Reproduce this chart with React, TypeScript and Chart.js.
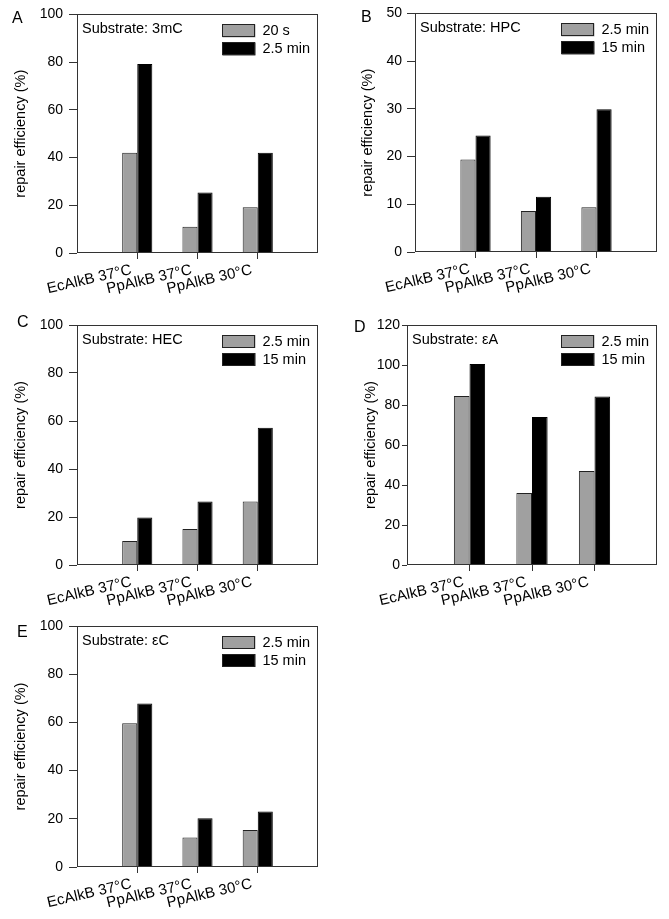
import React, { useEffect, useRef } from 'react';
import { Chart, registerables } from 'chart.js';

Chart.register(...registerables);

// ---------- data ----------
const categories = ['EcAlkB 37°C', 'PpAlkB 37°C', 'PpAlkB 30°C'];

const panelLetters = ['A', 'B', 'C', 'D', 'E'];
const substrates = ['3mC', 'HPC', 'HEC', 'εA', 'εC'];
const shortTimeLabels = ['20 s', '2.5 min', '2.5 min', '2.5 min', '2.5 min'];
const longTimeLabels = ['2.5 min', '15 min', '15 min', '15 min', '15 min'];

const aShort = [42, 11, 19.2];
const aLong = [79.2, 25.4, 42];
const bShort = [19.4, 8.6, 9.4];
const bLong = [24.4, 11.6, 29.9];
const cShort = [10, 15, 26.5];
const cLong = [19.8, 26.5, 57.2];
const dShort = [84.5, 36, 47];
const dLong = [100.5, 74, 84.3];
const eShort = [59.6, 12.2, 15.4];
const eLong = [67.8, 20.2, 23];

const shortSeries = [aShort, bShort, cShort, dShort, eShort];
const longSeries = [aLong, bLong, cLong, dLong, eLong];

const yMaxes = [100, 50, 100, 120, 100];
const ySteps = [20, 10, 20, 20, 20];
const yTitle = 'repair efficiency (%)';

// ---------- layout (positions / sizes) ----------
type Layout = {
  left: number; top: number; w: number; h: number;
  pl: number; pt: number; pr: number; pb: number;
  titleC: number; tickLen: number; tickPad: number;
  lx: number; ly: number;
};
const layouts: Layout[] = [
  { left: 0, top: 0, w: 335, h: 310, pl: 77, pt: 13, pr: 318, pb: 253, titleC: 21, tickLen: 8, tickPad: 6, lx: 12, ly: 23 },
  { left: 335, top: 0, w: 334, h: 310, pl: 80, pt: 12, pr: 322, pb: 252, titleC: 33, tickLen: 8, tickPad: 5, lx: 26, ly: 22 },
  { left: 0, top: 300, w: 335, h: 310, pl: 77, pt: 25, pr: 318, pb: 265, titleC: 21, tickLen: 8, tickPad: 6, lx: 17, ly: 27 },
  { left: 335, top: 300, w: 334, h: 310, pl: 72, pt: 25, pr: 322, pb: 265, titleC: 36, tickLen: 5, tickPad: 2, lx: 19, ly: 32 },
  { left: 0, top: 610, w: 335, h: 309, pl: 77, pt: 16, pr: 318, pb: 257, titleC: 21, tickLen: 8, tickPad: 6, lx: 17, ly: 27 },
];

const FONT = 'Arial, "Liberation Sans", Helvetica, sans-serif';
const GREY = '#a0a0a0';
const EDGE = '#222222';
const AXIS = '#333333';

function Panel({ idx }: { idx: number }) {
  const ref = useRef<HTMLCanvasElement | null>(null);
  const L = layouts[idx];

  useEffect(() => {
    if (!ref.current) return;
    const labels = ['', ...categories, ''];
    const shortData = [null, ...shortSeries[idx], null];
    const longData = [null, ...longSeries[idx], null];

    const decor = {
      id: 'decor' + idx,
      afterDraw(chart: any) {
        const ctx = chart.ctx;
        const ca = chart.chartArea;
        ctx.save();
        // frame
        ctx.strokeStyle = AXIS;
        ctx.lineWidth = 1;
        const x0 = Math.round(ca.left) + 0.5;
        const y0 = Math.round(ca.top) + 0.5;
        const x1 = Math.round(ca.right) - 0.5;
        const y1 = Math.round(ca.bottom) - 0.5;
        ctx.strokeRect(x0, y0, x1 - x0, y1 - y0);

        // panel letter
        ctx.fillStyle = '#000';
        ctx.font = `16px ${FONT}`;
        ctx.textAlign = 'left';
        ctx.textBaseline = 'alphabetic';
        ctx.fillText(panelLetters[idx], L.lx, L.ly);

        // substrate text
        ctx.font = `14.5px ${FONT}`;
        ctx.textBaseline = 'middle';
        ctx.fillText('Substrate: ' + substrates[idx], ca.left + 5, ca.top + 15);

        // legend
        const ds = chart.data.datasets;
        const tw = Math.max(...ds.map((d: any) => ctx.measureText(d.label).width));
        const textX = ca.right - 8 - tw;
        const boxW = 33;
        const boxH = 13;
        const boxX = textX - 7 - boxW;
        ds.forEach((d: any, i: number) => {
          const by = ca.top + 10 + i * 18;
          ctx.fillStyle = d.backgroundColor;
          ctx.fillRect(boxX, by, boxW, boxH);
          ctx.strokeStyle = EDGE;
          ctx.strokeRect(Math.round(boxX) + 0.5, Math.round(by) + 0.5, boxW - 1, boxH - 1);
          ctx.fillStyle = '#000';
          ctx.fillText(d.label, textX, by + boxH / 2 + 0.5);
        });
        ctx.restore();
      },
    };

    const chart = new Chart(ref.current, {
      type: 'bar',
      data: {
        labels,
        datasets: [
          {
            label: shortTimeLabels[idx],
            data: shortData,
            backgroundColor: GREY,
            borderColor: EDGE,
            borderWidth: 1,
          },
          {
            label: longTimeLabels[idx],
            data: longData,
            backgroundColor: '#000000',
            borderColor: '#000000',
            borderWidth: 1,
          },
        ],
      } as any,
      options: {
        animation: false,
        responsive: false,
        maintainAspectRatio: false,
        devicePixelRatio: 1,
        layout: {
          padding: { left: 0, top: L.pt, right: L.w - L.pr, bottom: 0 },
        },
        datasets: {
          bar: { categoryPercentage: 0.5, barPercentage: 1 },
        },
        plugins: {
          legend: { display: false },
          tooltip: { enabled: false },
          title: { display: false },
        },
        scales: {
          x: {
            type: 'category',
            offset: false,
            grid: {
              offset: false,
              drawOnChartArea: false,
              drawTicks: true,
              tickLength: 6,
              color: (c: any) => (c.index === 0 || c.index === labels.length - 1 ? 'rgba(0,0,0,0)' : AXIS),
            },
            border: { display: false },
            ticks: {
              autoSkip: false,
              minRotation: 13,
              maxRotation: 13,
              padding: 2,
              labelOffset: -6,
              color: '#000',
              font: { family: FONT, size: 15 },
            },
            afterFit: (s: any) => {
              s.height = L.h - L.pb;
            },
          },
          y: {
            min: 0,
            max: yMaxes[idx],
            ticks: {
              stepSize: ySteps[idx],
              padding: L.tickPad,
              color: '#000',
              font: { family: FONT, size: 14 },
            },
            grid: {
              drawOnChartArea: false,
              drawTicks: true,
              tickLength: L.tickLen,
              color: AXIS,
            },
            border: { display: false },
            title: {
              display: true,
              text: yTitle,
              color: '#000',
              font: { family: FONT, size: 14.5 },
              padding: { top: L.titleC - 8.7, bottom: 0 },
            },
            afterFit: (s: any) => {
              s.width = L.pl;
            },
          },
        },
      } as any,
      plugins: [decor],
    });
    return () => chart.destroy();
  }, [idx]);

  return (
    <canvas
      ref={ref}
      width={L.w}
      height={L.h}
      style={{ position: 'absolute', left: L.left, top: L.top, width: L.w, height: L.h }}
    />
  );
}

export default function App() {
  return (
    <div style={{ position: 'absolute', left: 0, top: 0, width: 669, height: 919, background: '#fff', overflow: 'hidden' }}>
      {panelLetters.map((_, i) => (
        <Panel key={i} idx={i} />
      ))}
    </div>
  );
}
